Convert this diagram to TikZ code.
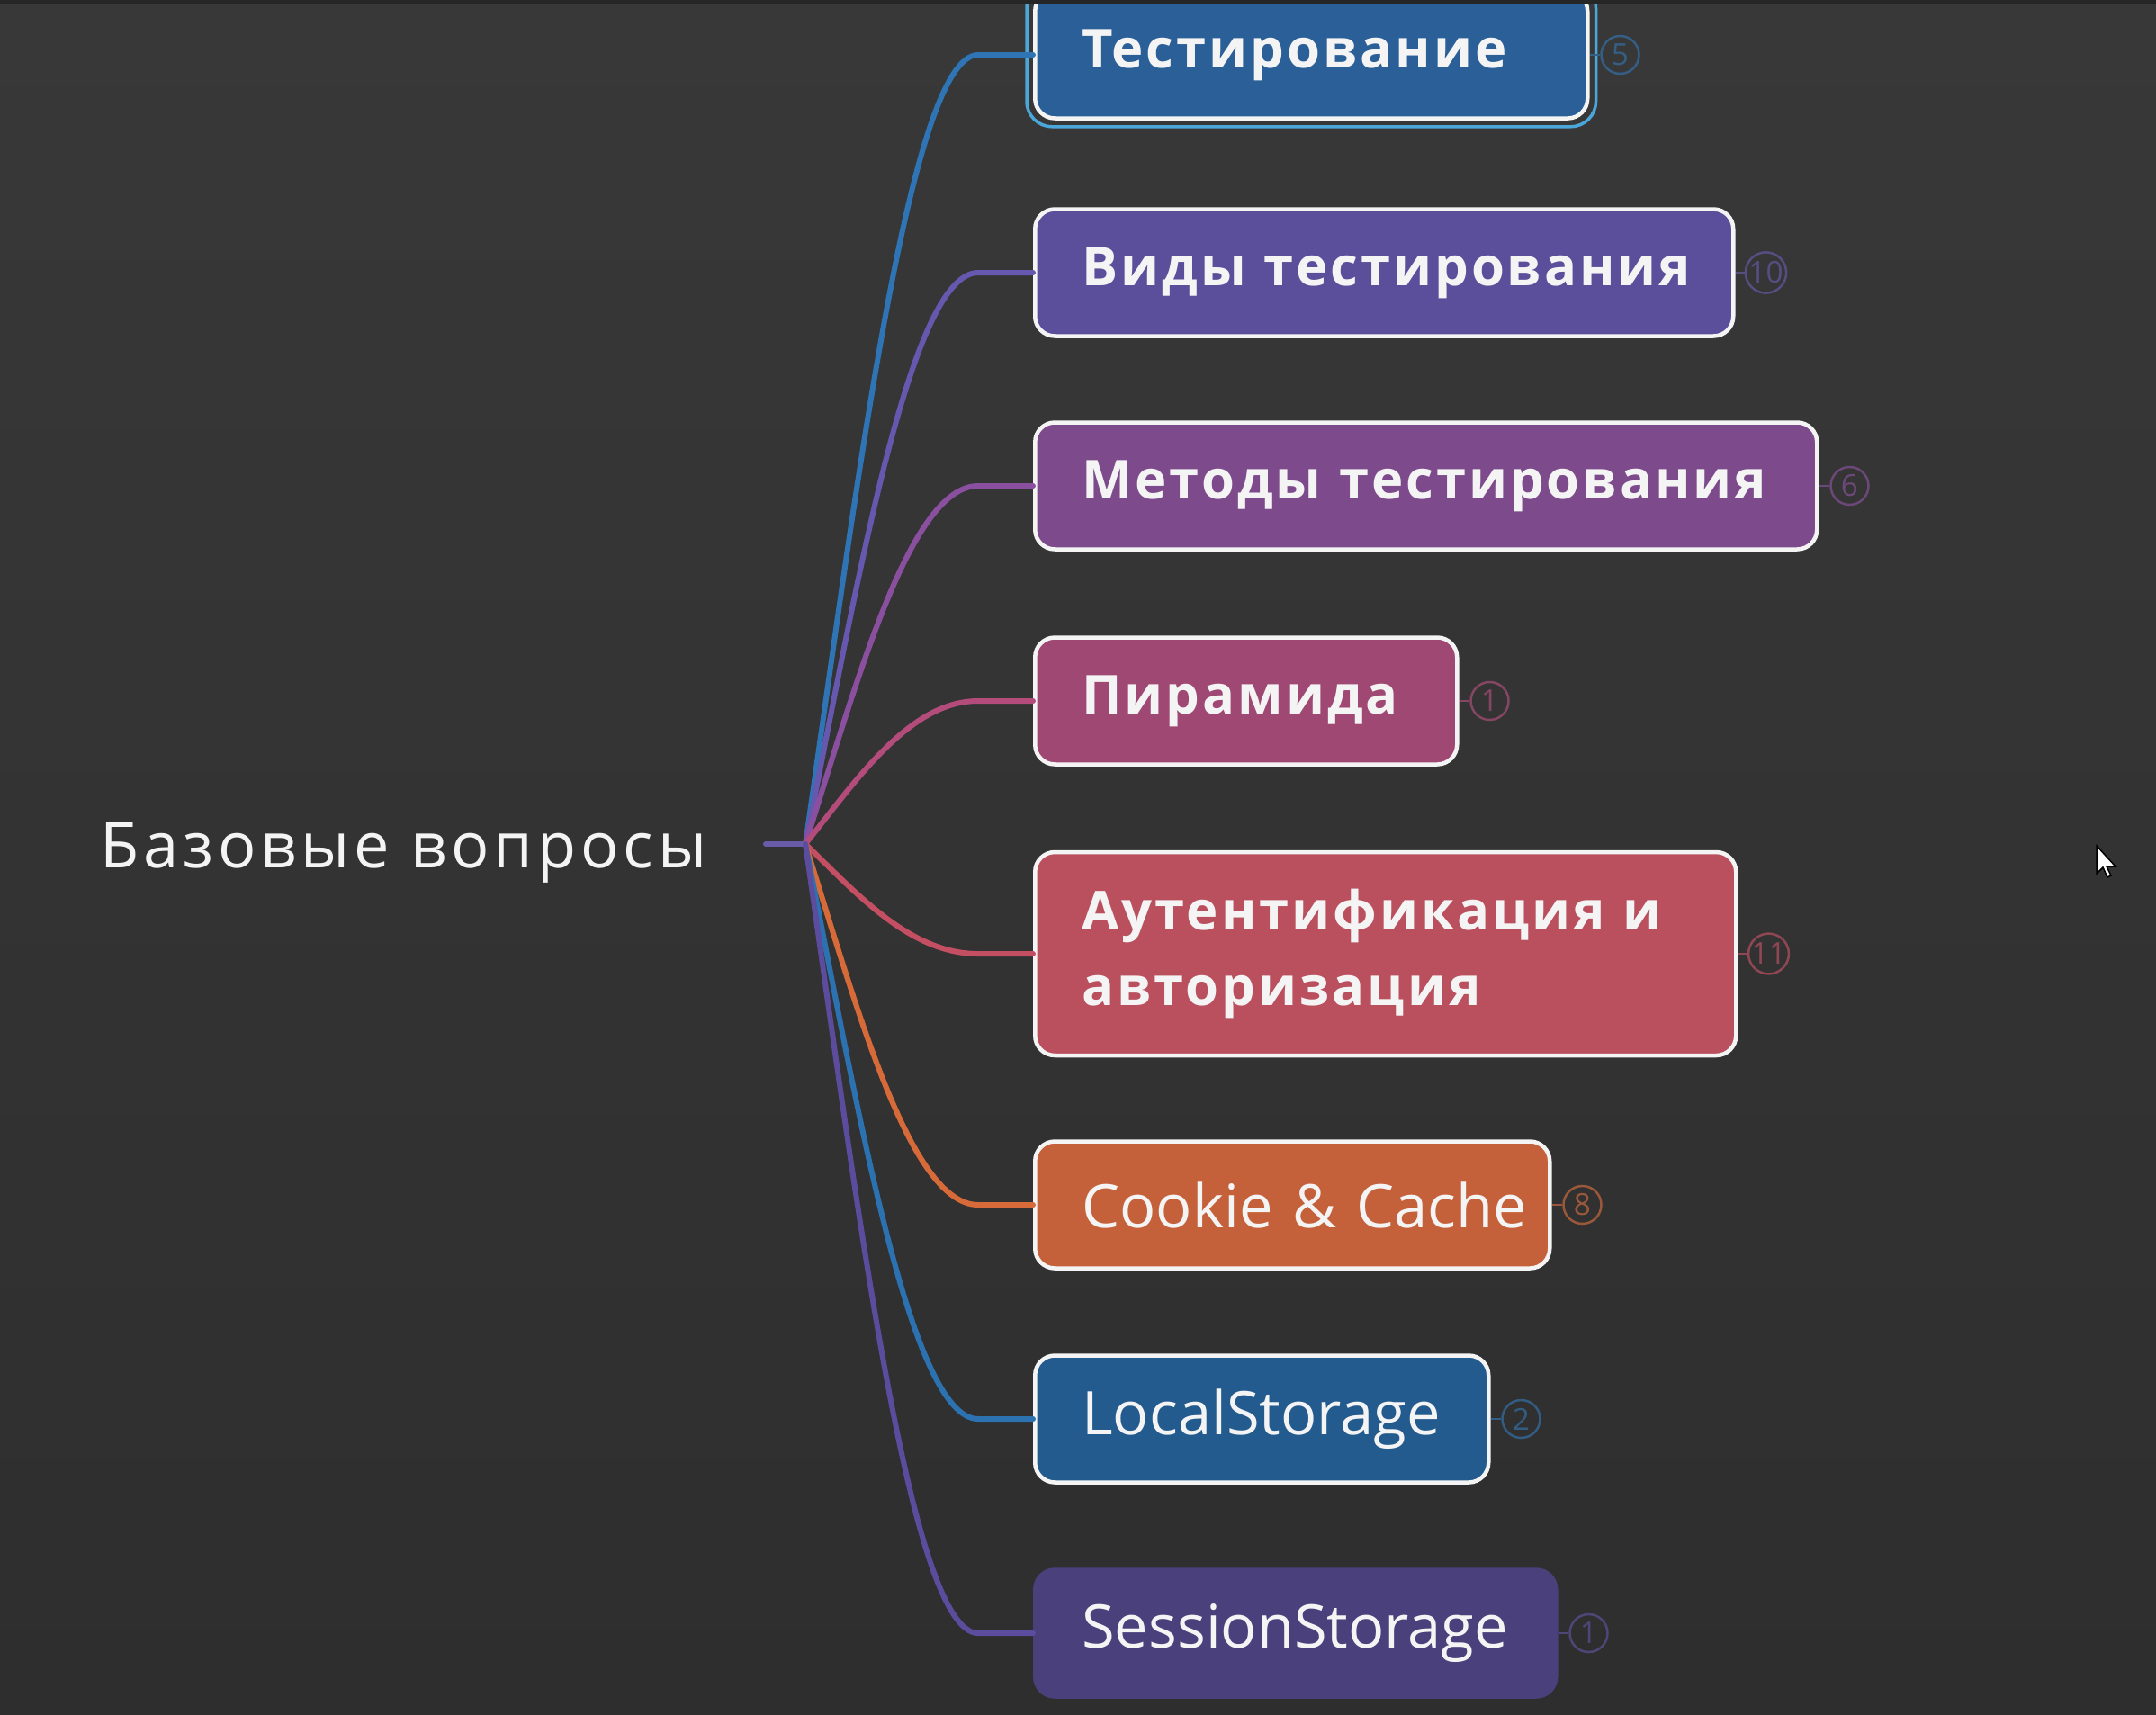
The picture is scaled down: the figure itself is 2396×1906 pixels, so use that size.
\documentclass[tikz,border=0pt]{standalone}
\usepackage{fontspec}
\setmainfont{Open Sans}
\newfontfamily\topicfont[LetterSpace=5]{Open Sans}
\newfontfamily\rootfont[LetterSpace=7]{Open Sans}
\usetikzlibrary{calc}
\definecolor{bgTop}{HTML}{383838}
\definecolor{bgMid}{HTML}{3D3D3D}
\definecolor{bgBottom}{HTML}{2E2E2E}
\definecolor{inkWhite}{HTML}{F4F4F4}
\definecolor{selectCyan}{HTML}{4BA6DA}
\definecolor{testBlue}{HTML}{2B5F98}
\definecolor{kindsViolet}{HTML}{5B4F9B}
\definecolor{methodsPlum}{HTML}{7D4A8B}
\definecolor{pyramidRose}{HTML}{9E4873}
\definecolor{authRed}{HTML}{BA4F5E}
\definecolor{cookieOrange}{HTML}{C5613A}
\definecolor{localBlue}{HTML}{245B8F}
\definecolor{sessionIndigo}{HTML}{4A407C}
\definecolor{testLine}{HTML}{2F74B5}
\definecolor{kindsLine}{HTML}{6658AE}
\definecolor{methodsLine}{HTML}{8B4FA0}
\definecolor{pyramidLine}{HTML}{B34C7A}
\definecolor{authLine}{HTML}{C44E62}
\definecolor{cookieLine}{HTML}{D66A38}
\definecolor{localLine}{HTML}{2C71B0}
\definecolor{sessionLine}{HTML}{5B4C9E}
\definecolor{stubViolet}{HTML}{6A5BA8}
\tikzset{
  topic/.style={draw=inkWhite,line width=0.45mm,rounded corners=2.2mm,anchor=west,minimum height=14.1mm,inner xsep=5.2mm,align=left,text=inkWhite,font=\topicfont\bfseries\fontsize{17}{24}\selectfont},
  topic latin/.style={topic,font=\fontsize{19}{24}\selectfont},
  select ring/.style={draw=selectCyan,line width=0.35mm,rounded corners=2.8mm},
  branch/.style={line width=0.6mm,line cap=round},
  badge/.style={circle,line width=0.25mm,minimum size=4.2mm,inner sep=0pt,font=\fontsize{9.5}{10}\selectfont}
}
\begin{document}
\begin{tikzpicture}[x=0.1mm,y=-0.1mm]
        \useasboundingbox (0,0) rectangle (2396,1906);
        \shade[top color=bgTop,middle color=bgMid,bottom color=bgBottom] (0,0) rectangle (2396,1906);
        % root
        \node[anchor=base west,inner sep=0pt,text=inkWhite,font=\rootfont\fontsize{20}{24}\selectfont] (root) at (111,964) {Базовые вопросы};
        \coordinate (stub) at (851,938);
        \coordinate (hub) at (895,938);
        \draw[branch,draw=stubViolet] (stub) -- (hub);
        % topics
        \node[topic,fill=testBlue,text width=51mm] (test) at (1148,61) {Тестирование};
        \draw[select ring] ($(test.south west)+(-7,7)$) rectangle ($(test.north east)+(7,-7)$);
        \node[topic,fill=kindsViolet,text width=67.2mm] (kinds) at (1148,303) {Виды~тестирования};
        \node[topic,fill=methodsPlum,text width=76.5mm] (methods) at (1148,540) {Методы~тестирования};
        \node[topic,fill=pyramidRose,text width=36.5mm] (pyramid) at (1148,779) {Пирамида};
        \node[topic,fill=authRed,text width=67.5mm,minimum height=22.6mm] (auth) at (1148,1060) {Аутентификация~и\\авторизация};
        \node[topic latin,fill=cookieOrange,text width=46.8mm] (cookie) at (1148,1339) {Cookie~\&~Cache};
        \node[topic latin,fill=localBlue,text width=40mm] (local) at (1148,1577) {LocalStorage};
        \node[topic latin,fill=sessionIndigo,draw=sessionIndigo,text width=47.5mm] (session) at (1148,1815) {SessionStorage};
        % branches and counters
        \foreach \n/\y/\col/\num in {test/61/testLine/5,kinds/303/kindsLine/10,methods/540/methodsLine/6,pyramid/779/pyramidLine/1,auth/1060/authLine/11,cookie/1339/cookieLine/8,local/1577/localLine/2,session/1815/sessionLine/1} {
          \draw[branch,draw=\col] (hub) .. controls (952,{938+0.45*(\y-938)}) and (1011,\y) .. (1087,\y) -- (\n.west);
          \node[badge,draw=\col!60!bgMid,text=\col!60!bgMid] (\n-count) at ($(\n.east)+(34,0)$) {\num};
          \draw[draw=\col!60!bgMid,line width=0.25mm] (\n.east) -- (\n-count);
        }
        % top edge and pointer
        \fill[black!85] (0,0) rectangle (2396,4);
        \draw[fill=white,draw=black,line width=0.15mm] (2330,940) -- ++(0,31) -- ++(7,-7) -- ++(5,11) -- ++(4,-2) -- ++(-5,-10) -- ++(10,0) -- cycle;
      \end{tikzpicture}
\end{document}
